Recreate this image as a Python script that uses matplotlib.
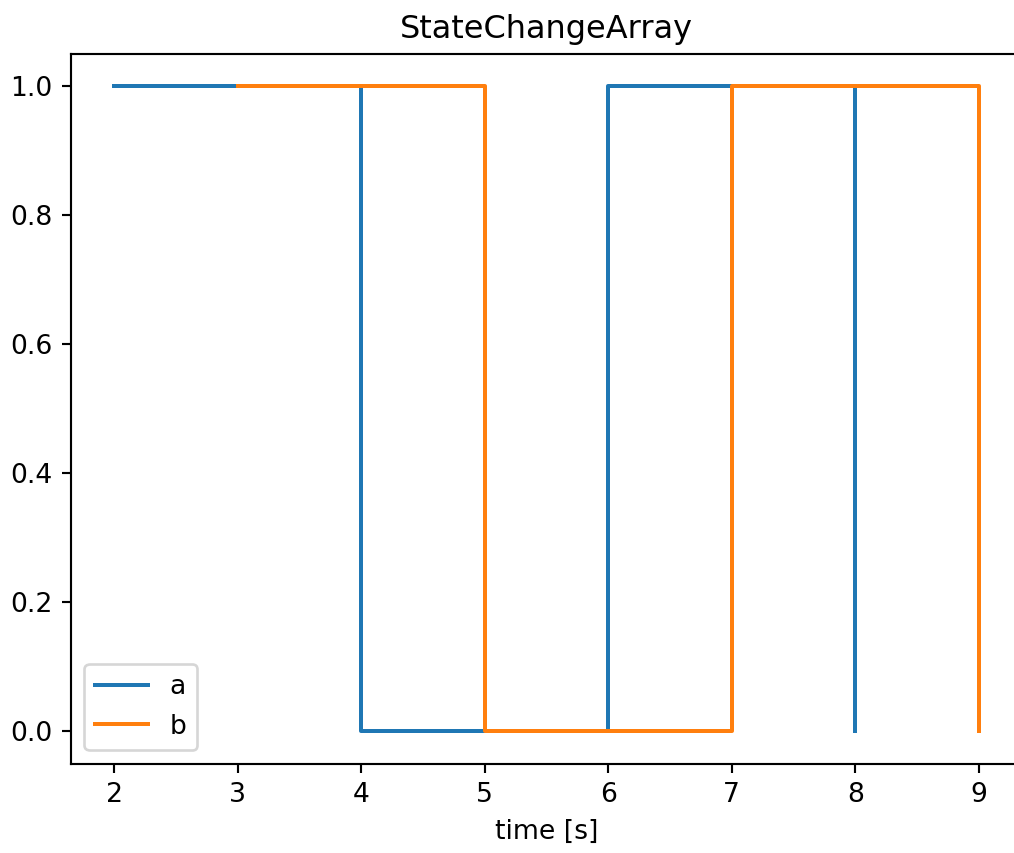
import matplotlib
matplotlib.use("Agg")
import matplotlib.pyplot as plt

t_a = [2, 4, 6, 8]
v_a = [1, 0, 1, 0]
t_b = [3, 5, 7, 9]
v_b = [1, 0, 1, 0]

DPI = 192
W, H = 1014, 853
fig = plt.figure(figsize=(W/DPI, H/DPI), dpi=DPI)
left, right, top, bottom = 71, 1022, 54, 763.5
ax = fig.add_axes([left/W, 1-bottom/H, (right-left)/W, (bottom-top)/H])
ax.plot(t_a, v_a, drawstyle="steps-post", label="a")
ax.plot(t_b, v_b, drawstyle="steps-post", label="b")
ax.set_title("StateChangeArray")
ax.set_xlabel("time [s]")
ax.legend(loc="lower left")
fig.savefig("out.png", dpi=DPI)
